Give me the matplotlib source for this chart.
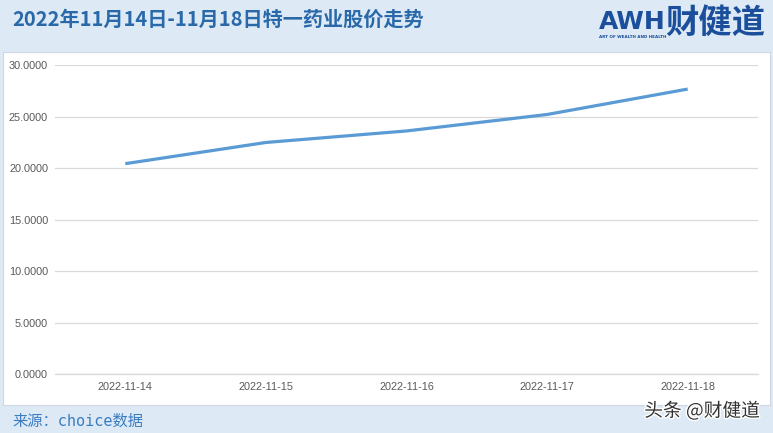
import matplotlib
matplotlib.use("Agg")
import matplotlib.pyplot as plt
import matplotlib.patheffects as pe

plt.rcParams['font.family'] = ['Noto Sans CJK SC', 'DejaVu Sans']

# data
dates = ['2022-11-14', '2022-11-15', '2022-11-16', '2022-11-17', '2022-11-18']
price = [20.44, 22.50, 23.62, 25.22, 27.69]
yticks = [0, 5, 10, 15, 20, 25, 30]

title = '2022年11月14日-11月18日特一药业股价走势'
source = '来源：choice数据'

band = '#ddeaf6'
tick_font = ['Liberation Sans', 'DejaVu Sans']

fig = plt.figure(figsize=(7.73, 4.33), dpi=100)
fig.patch.set_facecolor(band)
W, H = 773.0, 433.0

# white chart panel (behind the plot axes)
bg = fig.add_axes([3 / W, 1 - 405 / H, 767 / W, 353 / H], zorder=0)
bg.set_xticks([])
bg.set_yticks([])
bg.set_facecolor('white')
for s in bg.spines.values():
    s.set_color('#cfd8e2')
    s.set_linewidth(0.8)

ax = fig.add_axes([55 / W, 1 - 374 / H, 703 / W, (374 - 65.3) / H], zorder=1)
ax.set_facecolor('none')
x = list(range(len(dates)))
ax.plot(x, price, color='#5b9bd5', linewidth=2.3, solid_capstyle='butt', zorder=3)

ax.set_xlim(-0.5, len(dates) - 0.5)
ax.set_ylim(0, 30)
ax.set_yticks(yticks)
ax.set_yticklabels(['%.4f' % v for v in yticks], family=tick_font, fontsize=7.8, color='#595959')
ax.set_xticks(x)
ax.set_xticklabels(dates, family=tick_font, fontsize=7.8, color='#595959')
ax.tick_params(axis='both', length=0)
ax.tick_params(axis='y', pad=5)
ax.tick_params(axis='x', pad=5.5)
ax.grid(axis='y', color='#d9d9d9', linewidth=0.9)
ax.set_axisbelow(True)
for s in ['top', 'right', 'left']:
    ax.spines[s].set_visible(False)
ax.spines['bottom'].set_color('#d9d9d9')
ax.spines['bottom'].set_linewidth(0.9)

# header
fig.text(12 / W, 1 - 19 / H, title, fontsize=14.5, fontweight='bold', color='#2a69a9',
         ha='left', va='center')

# logo
fig.text(599 / W, 1 - 22 / H, 'AWH', fontsize=18, fontweight='bold', color='#1b4f9c',
         ha='left', va='center', family=['DejaVu Sans'])
fig.text(665 / W, 1 - 23 / H, '财健道', fontsize=24, fontweight='bold', color='#1b4f9c',
         ha='left', va='center')
fig.text(599 / W, 1 - 37 / H, 'ART OF WEALTH AND HEALTH', fontsize=3, fontweight='bold',
         color='#1b4f9c', ha='left', va='center', family=['DejaVu Sans'])

# footer
fig.text(12 / W, 1 - 421 / H, source, fontsize=11, color='#3b7cc0', ha='left', va='center',
         family=['DejaVu Sans Mono', 'Noto Sans CJK SC'])
fig.text(760 / W, 1 - 411 / H, '头条 @财健道', fontsize=13.5, color='#333333', ha='right',
         va='center', path_effects=[pe.withStroke(linewidth=2, foreground='white')])

fig.savefig('out.png', dpi=100, facecolor=fig.get_facecolor())
